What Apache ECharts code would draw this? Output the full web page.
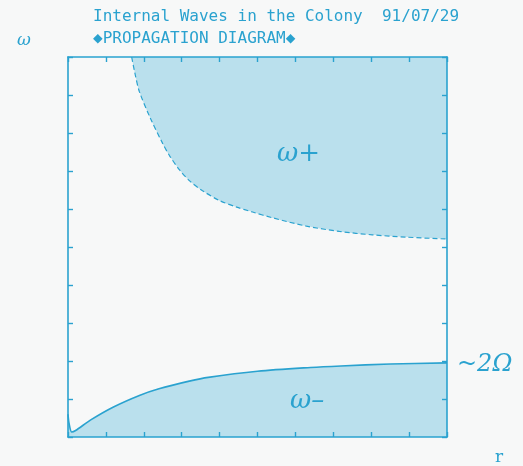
<!DOCTYPE html>
<html>
<head>
<meta charset="utf-8">
<script src="https://cdn.jsdelivr.net/npm/echarts@6/dist/echarts.min.js"></script>
<style>
html,body{margin:0;padding:0;background:#f7f8f8;}
#c{width:523px;height:466px;}
</style>
</head>
<body>
<div id="c"></div>
<script>
// Upper branch (omega+) boundary, in tick units
var upperX = [1.68, 1.76, 1.88, 2.16, 2.50, 2.68, 2.95, 3.21, 3.55, 4.00, 4.45, 4.87, 5.39, 6.29, 7.16, 8.03, 8.92, 10.0];
var upperY = [10.0, 9.60, 9.10, 8.42, 7.72, 7.40, 7.02, 6.74, 6.48, 6.22, 6.05, 5.92, 5.77, 5.55, 5.41, 5.32, 5.26, 5.21];
// Lower branch (omega-) boundary
var lowerX = [0.0, 0.03, 0.1, 0.2, 0.6, 1.2, 1.9, 2.4, 3.2, 3.7, 5.0, 6.4, 7.2, 8.5, 10.0];
var lowerY = [0.6, 0.35, 0.13, 0.17, 0.45, 0.79, 1.10, 1.27, 1.47, 1.57, 1.73, 1.83, 1.87, 1.92, 1.95];
var titleLine1 = "Internal Waves in the Colony  91/07/29";
var titleLine2 = "\u25C6PROPAGATION DIAGRAM\u25C6";

var C = '#2aa2cf';
var FILL = '#bae0ed';
function pairs(xs, ys){ return xs.map(function(x,i){ return [x, ys[i]]; }); }

var axBase = {
  type: 'value', min: 0, max: 10, interval: 1, show: true, z: 10,
  axisLine: {show: true, onZero: false, lineStyle: {color: C, width: 1.6}},
  axisTick: {show: true, inside: true, length: 5, lineStyle: {color: C, width: 1.4}},
  axisLabel: {show: false},
  splitLine: {show: false}
};
function ax(extra){ return Object.assign({}, axBase, extra); }

var chart = echarts.init(document.getElementById('c'));
chart.setOption({
  backgroundColor: '#f7f8f8',
  animation: false,
  grid: {left: 68, top: 57, right: 76, bottom: 29, show: false},
  xAxis: [ax({position: 'bottom'}), ax({position: 'top'})],
  yAxis: [ax({position: 'left'}), ax({position: 'right'})],
  title: [
    {text: titleLine1, left: 88, top: 4, textStyle: {fontFamily: 'DejaVu Sans Mono', fontSize: 16, fontWeight: 'normal', color: C}},
    {text: titleLine2, left: 88, top: 26, textStyle: {fontFamily: 'DejaVu Sans Mono', fontSize: 16, fontWeight: 'normal', color: C}},
    {text: '\u03C9', left: 12, top: 27, textStyle: {fontFamily: 'DejaVu Serif', fontStyle: 'italic', fontSize: 17, fontWeight: 'normal', color: C}},
    {text: '\u03C9+', left: 272, top: 136, textStyle: {fontFamily: 'DejaVu Serif', fontStyle: 'italic', fontSize: 26, fontWeight: 'normal', color: C}},
    {text: '\u03C9\u2013', left: 285, top: 383, textStyle: {fontFamily: 'DejaVu Serif', fontStyle: 'italic', fontSize: 26, fontWeight: 'normal', color: C}},
    {text: '~2\u03A9', left: 452, top: 348, textStyle: {fontFamily: 'DejaVu Serif', fontStyle: 'italic', fontSize: 24, fontWeight: 'normal', color: C}},
    {text: 'r', left: 490, top: 444, textStyle: {fontFamily: 'DejaVu Serif', fontSize: 17, fontWeight: 'normal', color: C}}
  ],
  series: [
    {
      type: 'line', data: pairs(upperX, upperY), showSymbol: false, smooth: 0.3,
      lineStyle: {color: C, width: 1.2, type: [5, 3]},
      areaStyle: {color: FILL, opacity: 1, origin: 'end'},
      z: 2
    },
    {
      type: 'line', data: pairs(lowerX, lowerY), showSymbol: false, smooth: 0.3,
      lineStyle: {color: C, width: 1.6},
      areaStyle: {color: FILL, opacity: 1, origin: 'start'},
      z: 2
    },
    {
      type: 'line', xAxisIndex: 1, yAxisIndex: 1, data: [], silent: true, showSymbol: false
    }
  ]
});
</script>
</body>
</html>
